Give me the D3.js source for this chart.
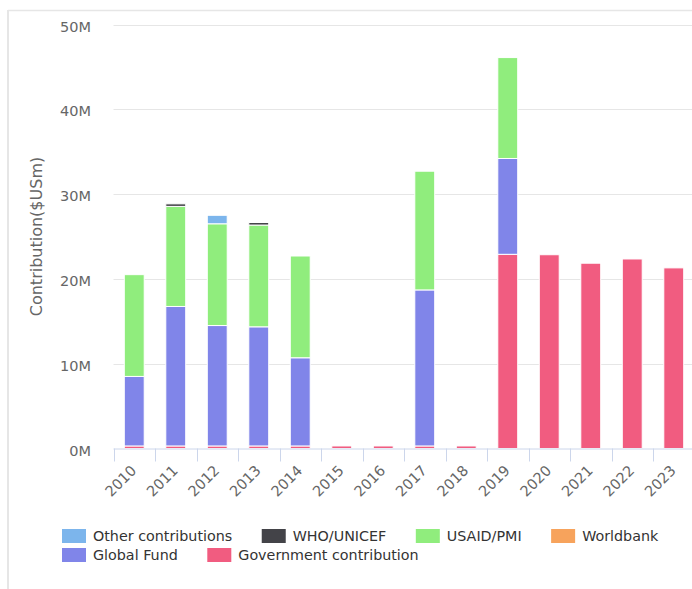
<!doctype html>
<html>
  <head>
    <style>
      body { margin: 0; background: white; }
      text { font-family: "DejaVu Sans", sans-serif; }
    </style>
    <script src="https://cdnjs.cloudflare.com/ajax/libs/d3/7.8.5/d3.min.js"></script>
  </head>
  <body>
    <div id="chart"></div>
    <script>
      // values in millions of US$
      var years = ["2010","2011","2012","2013","2014","2015","2016","2017","2018","2019","2020","2021","2022","2023"];
      var government = [0.3, 0.3, 0.3, 0.3, 0.3, 0.3, 0.3, 0.3, 0.3, 22.9, 22.85, 21.85, 22.35, 21.3];
      var worldbank  = [0, 0, 0, 0, 0, 0, 0, 0, 0, 0, 0, 0, 0, 0];
      var globalFund = [8.2, 16.45, 14.2, 14.05, 10.4, 0, 0, 18.4, 0, 11.3, 0, 0, 0, 0];
      var usaid      = [12.0, 11.8, 12.0, 12.0, 12.0, 0, 0, 14.0, 0, 11.9, 0, 0, 0, 0];
      var whoUnicef  = [0, 0.3, 0, 0.3, 0, 0, 0, 0, 0, 0, 0, 0, 0, 0];
      var other      = [0, 0, 1.0, 0, 0, 0, 0, 0, 0, 0, 0, 0, 0, 0];
      var yTicks = [0, 10, 20, 30, 40, 50];

      // legend order (Highcharts style: first series on top of the stack)
      var seriesNames = ["Other contributions", "WHO/UNICEF", "USAID/PMI", "Worldbank", "Global Fund", "Government contribution"];
      var seriesValues = [other, whoUnicef, usaid, worldbank, globalFund, government];
      var seriesColors = ["#7cb5ec", "#434348", "#90ed7d", "#f7a35c", "#8085e9", "#f15c80"];

      var width = 692, height = 589;
      var svg = d3.select("#chart").append("svg")
                  .attr("width", width)
                  .attr("height", height);

      // frame border
      svg.append("line").attr("x1", 8).attr("x2", 8).attr("y1", 10).attr("y2", height)
         .attr("stroke", "#e6e6e6").attr("stroke-width", 2);
      svg.append("line").attr("x1", 8).attr("x2", width).attr("y1", 10.5).attr("y2", 10.5)
         .attr("stroke", "#e6e6e6").attr("stroke-width", 1.5);

      var plotLeft = 113.5, plotRight = 694.5, plotTop = 24.5, plotBottom = 448.5;

      var x = d3.scaleBand().domain(years).range([plotLeft, plotRight]);
      var y = d3.scaleLinear().domain([0, 50]).range([plotBottom, plotTop]);

      // table for the stack
      var rows = years.map(function(yr, i) {
        var r = { year: yr };
        seriesNames.forEach(function(n, j) { r[n] = seriesValues[j][i]; });
        return r;
      });
      var stackKeys = seriesNames.slice().reverse();
      var stacked = d3.stack().keys(stackKeys)(rows);
      var color = d3.scaleOrdinal().domain(seriesNames).range(seriesColors);

      // grid lines
      svg.append("g").selectAll("line")
         .data(yTicks.filter(function(d) { return d > 0; }))
         .enter().append("line")
         .attr("x1", plotLeft).attr("x2", width)
         .attr("y1", function(d) { return Math.round(y(d)) + 0.5; })
         .attr("y2", function(d) { return Math.round(y(d)) + 0.5; })
         .attr("stroke", "#e6e6e6").attr("stroke-width", 1);

      // y labels
      svg.append("g").selectAll("text")
         .data(yTicks)
         .enter().append("text")
         .attr("x", 91)
         .attr("y", function(d) { return y(d) + 7; })
         .attr("text-anchor", "end")
         .attr("fill", "#666")
         .style("font-size", "14.5px")
         .text(function(d) { return d + "M"; });

      // y title
      svg.append("text")
         .attr("transform", "translate(42," + ((plotTop + plotBottom) / 2) + ") rotate(-90)")
         .attr("text-anchor", "middle")
         .attr("fill", "#666")
         .style("font-size", "16px")
         .text("Contribution($USm)");

      // bars
      var barW = x.bandwidth() * 0.48;
      svg.append("g").selectAll("g")
         .data(stacked)
         .enter().append("g")
         .attr("fill", function(d) { return color(d.key); })
         .selectAll("rect")
         .data(function(d) { return d.filter(function(p) { return p[1] - p[0] > 0; }); })
         .enter().append("rect")
         .attr("x", function(d) { return x(d.data.year) + (x.bandwidth() - barW) / 2; })
         .attr("y", function(d) { return y(d[1]); })
         .attr("width", barW)
         .attr("height", function(d) { return y(d[0]) - y(d[1]); })
         .attr("stroke", "#fff")
         .attr("stroke-width", 1);

      // x axis line and ticks
      var xAxis = svg.append("g");
      xAxis.append("line")
           .attr("x1", plotLeft).attr("x2", plotRight)
           .attr("y1", plotBottom + 0.5).attr("y2", plotBottom + 0.5)
           .attr("stroke", "#ccd6eb");
      xAxis.selectAll(".tick")
           .data(years.concat(["end"]))
           .enter().append("line")
           .attr("class", "tick")
           .attr("x1", function(d, i) { return Math.round(plotLeft + i * x.bandwidth()) + 0.5; })
           .attr("x2", function(d, i) { return Math.round(plotLeft + i * x.bandwidth()) + 0.5; })
           .attr("y1", plotBottom).attr("y2", plotBottom + 13)
           .attr("stroke", "#ccd6eb");
      xAxis.selectAll("text")
           .data(years)
           .enter().append("text")
           .attr("transform", function(d) {
             return "translate(" + (x(d) + x.bandwidth() / 2 + 3) + "," + (plotBottom + 23) + ") rotate(-45)";
           })
           .attr("text-anchor", "end")
           .attr("fill", "#666")
           .style("font-size", "14.5px")
           .text(function(d) { return d; });

      // legend
      var legend = svg.append("g");
      var lx = 62, ly = 529, rowH = 19;
      seriesNames.forEach(function(name, i) {
        var item = legend.append("g");
        item.append("rect")
            .attr("width", 24).attr("height", 14)
            .attr("fill", seriesColors[i]);
        var t = item.append("text")
            .attr("x", 31).attr("y", 12)
            .attr("fill", "#333")
            .style("font-size", "14.3px")
            .text(name);
        var w = 31 + t.node().getComputedTextLength();
        if (lx + w > 670) { lx = 62; ly += rowH; }
        item.attr("transform", "translate(" + lx + "," + ly + ")");
        lx += w + 29.5;
      });
    </script>
  </body>
</html>
